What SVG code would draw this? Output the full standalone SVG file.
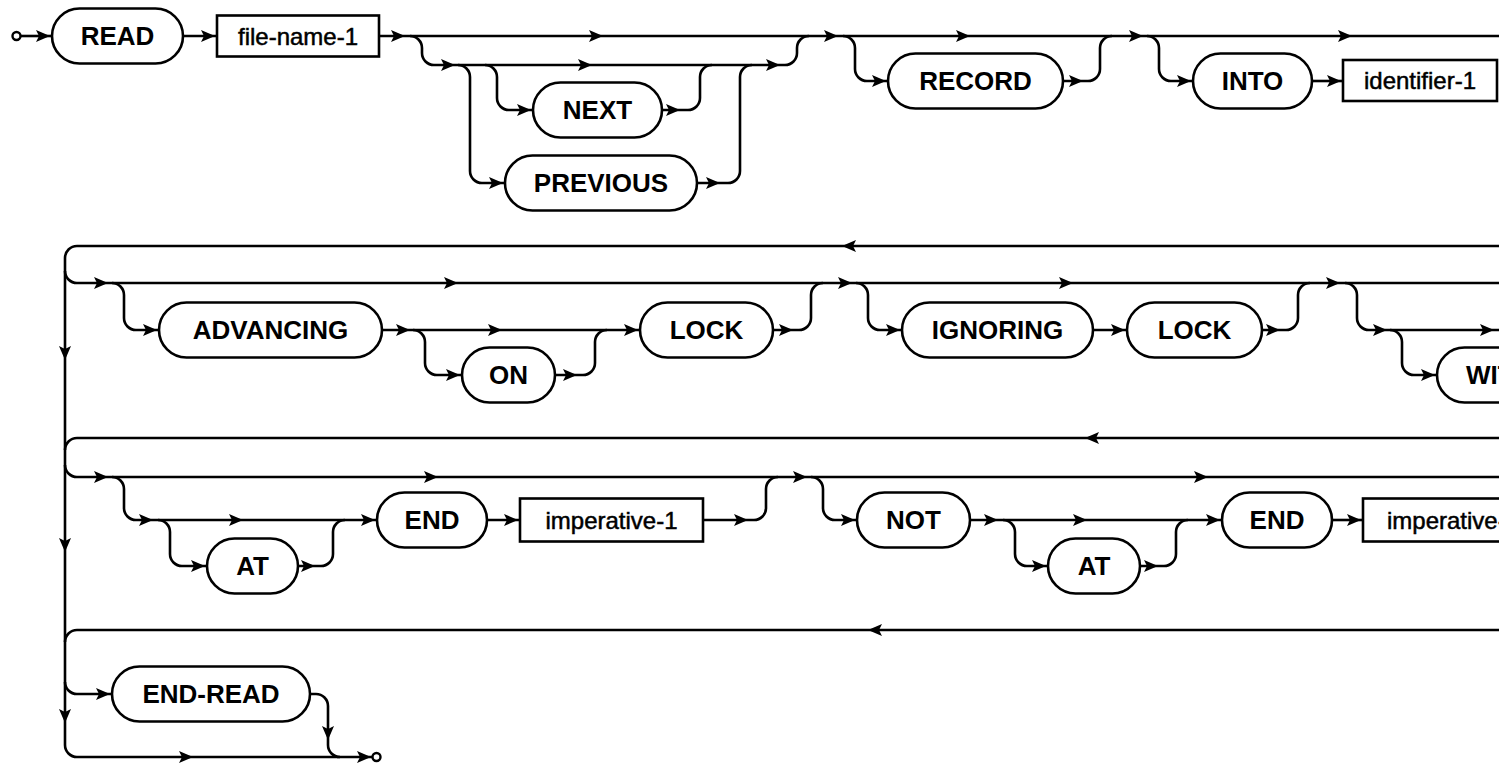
<svg xmlns="http://www.w3.org/2000/svg" xmlns:xlink="http://www.w3.org/1999/xlink" width="1499" height="767" viewBox="0 0 1499 767">
<style>
.ln{fill:none;stroke:#000;stroke-width:2.6}
.kw rect,.id rect{fill:#fff;stroke:#000;stroke-width:2.6}
.kw text{font-family:"Liberation Sans",Arial,sans-serif;font-weight:bold;font-size:26px;text-anchor:middle;fill:#000}
.id text{font-family:"Liberation Sans",Arial,sans-serif;font-size:24px;text-anchor:middle;fill:#000;stroke:#000;stroke-width:0.5}
.term{fill:#fff;stroke:#000;stroke-width:2.4}
</style>
<defs>
<path id="a" d="M0,0 L-14,-6 L-11,0 L-14,6 Z" fill="#000"/>
</defs>
<rect width="1499" height="767" fill="#fff"/>
<g id="connectors">
<path class="ln" d="M21,36 L52,36"/>
<path class="ln" d="M183,36 L217,36"/>
<path class="ln" d="M379,36 L1499,36"/>
<path class="ln" d="M410,36 A12,12 0 0 1 422,48 L422,53 A12,12 0 0 0 434,65 L785,65 A12,12 0 0 0 797,53 L797,48 A12,12 0 0 1 809,36"/>
<path class="ln" d="M458,65 A12,12 0 0 1 470,77 L470,171 A12,12 0 0 0 482,183 L505,183"/>
<path class="ln" d="M697,183 L728,183 A12,12 0 0 0 740,171 L740,77 A12,12 0 0 1 752,65"/>
<path class="ln" d="M485,65 A12,12 0 0 1 497,77 L497,98 A12,12 0 0 0 509,110 L533,110"/>
<path class="ln" d="M662,110 L688,110 A12,12 0 0 0 700,98 L700,77 A12,12 0 0 1 712,65"/>
<path class="ln" d="M843,36 A12,12 0 0 1 855,48 L855,69 A12,12 0 0 0 867,81 L888,81"/>
<path class="ln" d="M1063,81 L1088,81 A12,12 0 0 0 1100,69 L1100,48 A12,12 0 0 1 1112,36"/>
<path class="ln" d="M1147,36 A12,12 0 0 1 1159,48 L1159,69 A12,12 0 0 0 1171,81 L1193,81"/>
<path class="ln" d="M1312,81 L1343,81"/>
<path class="ln" d="M1499,246 L77,246 A12,12 0 0 0 65,258 L65,745 A12,12 0 0 0 77,757 L372,757"/>
<path class="ln" d="M65,271 A12,12 0 0 0 77,283 L1499,283"/>
<path class="ln" d="M112,283 A12,12 0 0 1 124,295 L124,318 A12,12 0 0 0 136,330 L159,330"/>
<path class="ln" d="M382,330 L640,330"/>
<path class="ln" d="M413,330 A12,12 0 0 1 425,342 L425,363 A12,12 0 0 0 437,375 L462,375"/>
<path class="ln" d="M555,375 L583,375 A12,12 0 0 0 595,363 L595,342 A12,12 0 0 1 607,330"/>
<path class="ln" d="M773,330 L799,330 A12,12 0 0 0 811,318 L811,295 A12,12 0 0 1 823,283"/>
<path class="ln" d="M856,283 A12,12 0 0 1 868,295 L868,318 A12,12 0 0 0 880,330 L902,330"/>
<path class="ln" d="M1093,330 L1127,330"/>
<path class="ln" d="M1262,330 L1286,330 A12,12 0 0 0 1298,318 L1298,295 A12,12 0 0 1 1310,283"/>
<path class="ln" d="M1345,283 A12,12 0 0 1 1357,295 L1357,318 A12,12 0 0 0 1369,330 L1499,330"/>
<path class="ln" d="M1390,330 A12,12 0 0 1 1402,342 L1402,363 A12,12 0 0 0 1414,375 L1437,375"/>
<path class="ln" d="M1499,438 L77,438 A12,12 0 0 0 65,450"/>
<path class="ln" d="M65,465 A12,12 0 0 0 77,477 L1499,477"/>
<path class="ln" d="M112,477 A12,12 0 0 1 124,489 L124,508 A12,12 0 0 0 136,520 L377,520"/>
<path class="ln" d="M158,520 A12,12 0 0 1 170,532 L170,554 A12,12 0 0 0 182,566 L207,566"/>
<path class="ln" d="M298,566 L321,566 A12,12 0 0 0 333,554 L333,532 A12,12 0 0 1 345,520"/>
<path class="ln" d="M487,520 L520,520"/>
<path class="ln" d="M703,520 L754,520 A12,12 0 0 0 766,508 L766,489 A12,12 0 0 1 778,477"/>
<path class="ln" d="M811,477 A12,12 0 0 1 823,489 L823,508 A12,12 0 0 0 835,520 L857,520"/>
<path class="ln" d="M970,520 L1222,520"/>
<path class="ln" d="M1003,520 A12,12 0 0 1 1015,532 L1015,554 A12,12 0 0 0 1027,566 L1048,566"/>
<path class="ln" d="M1140,566 L1164,566 A12,12 0 0 0 1176,554 L1176,532 A12,12 0 0 1 1188,520"/>
<path class="ln" d="M1332,520 L1363,520"/>
<path class="ln" d="M1499,630 L77,630 A12,12 0 0 0 65,642"/>
<path class="ln" d="M65,682 A12,12 0 0 0 77,694 L112,694"/>
<path class="ln" d="M310,694 L316,694 A12,12 0 0 1 328,706 L328,745 A12,12 0 0 0 340,757"/>
<use xlink:href="#a" x="50" y="36"/>
<use xlink:href="#a" x="215" y="36"/>
<use xlink:href="#a" x="405" y="36"/>
<use xlink:href="#a" x="603" y="36"/>
<use xlink:href="#a" x="838" y="36"/>
<use xlink:href="#a" x="970" y="36"/>
<use xlink:href="#a" x="1143" y="36"/>
<use xlink:href="#a" x="1352" y="36"/>
<use xlink:href="#a" x="455" y="65"/>
<use xlink:href="#a" x="592" y="65"/>
<use xlink:href="#a" x="780" y="65"/>
<use xlink:href="#a" x="531" y="110"/>
<use xlink:href="#a" x="680" y="110"/>
<use xlink:href="#a" x="503" y="183"/>
<use xlink:href="#a" x="720" y="183"/>
<use xlink:href="#a" x="886" y="81"/>
<use xlink:href="#a" x="1083" y="81"/>
<use xlink:href="#a" x="1191" y="81"/>
<use xlink:href="#a" x="1341" y="81"/>
<use xlink:href="#a" transform="translate(842,246) rotate(180)"/>
<use xlink:href="#a" transform="translate(1085,438) rotate(180)"/>
<use xlink:href="#a" transform="translate(868,630) rotate(180)"/>
<use xlink:href="#a" transform="translate(65,360) rotate(90)"/>
<use xlink:href="#a" transform="translate(65,552) rotate(90)"/>
<use xlink:href="#a" transform="translate(65,723) rotate(90)"/>
<use xlink:href="#a" transform="translate(328,740) rotate(90)"/>
<use xlink:href="#a" x="108" y="283"/>
<use xlink:href="#a" x="458" y="283"/>
<use xlink:href="#a" x="852" y="283"/>
<use xlink:href="#a" x="1073" y="283"/>
<use xlink:href="#a" x="1340" y="283"/>
<use xlink:href="#a" x="157" y="330"/>
<use xlink:href="#a" x="410" y="330"/>
<use xlink:href="#a" x="502" y="330"/>
<use xlink:href="#a" x="638" y="330"/>
<use xlink:href="#a" x="793" y="330"/>
<use xlink:href="#a" x="900" y="330"/>
<use xlink:href="#a" x="1125" y="330"/>
<use xlink:href="#a" x="1280" y="330"/>
<use xlink:href="#a" x="1387" y="330"/>
<use xlink:href="#a" x="1494" y="330"/>
<use xlink:href="#a" x="460" y="375"/>
<use xlink:href="#a" x="577" y="375"/>
<use xlink:href="#a" x="1435" y="375"/>
<use xlink:href="#a" x="108" y="477"/>
<use xlink:href="#a" x="438" y="477"/>
<use xlink:href="#a" x="807" y="477"/>
<use xlink:href="#a" x="1208" y="477"/>
<use xlink:href="#a" x="153" y="520"/>
<use xlink:href="#a" x="243" y="520"/>
<use xlink:href="#a" x="375" y="520"/>
<use xlink:href="#a" x="518" y="520"/>
<use xlink:href="#a" x="748" y="520"/>
<use xlink:href="#a" x="855" y="520"/>
<use xlink:href="#a" x="998" y="520"/>
<use xlink:href="#a" x="1087" y="520"/>
<use xlink:href="#a" x="1220" y="520"/>
<use xlink:href="#a" x="1361" y="520"/>
<use xlink:href="#a" x="205" y="566"/>
<use xlink:href="#a" x="315" y="566"/>
<use xlink:href="#a" x="1046" y="566"/>
<use xlink:href="#a" x="1158" y="566"/>
<use xlink:href="#a" x="110" y="694"/>
<use xlink:href="#a" x="193" y="757"/>
<use xlink:href="#a" x="371" y="757"/>
</g>
<g id="start"><circle class="term" cx="16.5" cy="36" r="4"/></g>
<g id="end"><circle class="term" cx="376.5" cy="757" r="4"/></g>
<g id="n-read" class="kw"><rect x="52" y="8.5" width="131" height="55" rx="27.5"/><text x="117.5" y="45">READ</text></g>
<g id="n-file-name-1" class="id"><rect x="217" y="15.5" width="162" height="41"/><text x="298" y="44.5">file-name-1</text></g>
<g id="n-next" class="kw"><rect x="533" y="82.5" width="129" height="55" rx="27.5"/><text x="597.5" y="119">NEXT</text></g>
<g id="n-previous" class="kw"><rect x="505" y="155.5" width="192" height="55" rx="27.5"/><text x="601" y="192">PREVIOUS</text></g>
<g id="n-record" class="kw"><rect x="888" y="53.5" width="175" height="55" rx="27.5"/><text x="975.5" y="90">RECORD</text></g>
<g id="n-into" class="kw"><rect x="1193" y="53.5" width="119" height="55" rx="27.5"/><text x="1252.5" y="90">INTO</text></g>
<g id="n-identifier-1" class="id"><rect x="1343" y="60" width="154" height="41"/><text x="1420" y="89">identifier-1</text></g>
<g id="n-advancing" class="kw"><rect x="159" y="302.5" width="223" height="55" rx="27.5"/><text x="270.5" y="339">ADVANCING</text></g>
<g id="n-on" class="kw"><rect x="462" y="347.5" width="93" height="55" rx="27.5"/><text x="508.5" y="384">ON</text></g>
<g id="n-lock-1" class="kw"><rect x="640" y="302.5" width="133" height="55" rx="27.5"/><text x="706.5" y="339">LOCK</text></g>
<g id="n-ignoring" class="kw"><rect x="902" y="302.5" width="191" height="55" rx="27.5"/><text x="997.5" y="339">IGNORING</text></g>
<g id="n-lock-2" class="kw"><rect x="1127" y="302.5" width="135" height="55" rx="27.5"/><text x="1194.5" y="339">LOCK</text></g>
<g id="n-with" class="kw"><rect x="1437" y="347.5" width="130" height="55" rx="27.5"/><text x="1466" y="384" style="text-anchor:start">WITH</text></g>
<g id="n-at-1" class="kw"><rect x="207" y="538.5" width="91" height="55" rx="27.5"/><text x="252.5" y="575">AT</text></g>
<g id="n-end-1" class="kw"><rect x="377" y="492.5" width="110" height="55" rx="27.5"/><text x="432" y="529">END</text></g>
<g id="n-imperative-1" class="id"><rect x="520" y="498.5" width="183" height="43"/><text x="611.5" y="528.5">imperative-1</text></g>
<g id="n-not" class="kw"><rect x="857" y="492.5" width="113" height="55" rx="27.5"/><text x="913.5" y="529">NOT</text></g>
<g id="n-at-2" class="kw"><rect x="1048" y="538.5" width="92" height="55" rx="27.5"/><text x="1094" y="575">AT</text></g>
<g id="n-end-2" class="kw"><rect x="1222" y="492.5" width="110" height="55" rx="27.5"/><text x="1277" y="529">END</text></g>
<g id="n-imperative-2" class="id"><rect x="1363" y="498.5" width="183" height="43"/><text x="1387" y="528.5" style="text-anchor:start">imperative-2</text></g>
<g id="n-end-read" class="kw"><rect x="112" y="666.5" width="198" height="55" rx="27.5"/><text x="211" y="703">END-READ</text></g>
</svg>
